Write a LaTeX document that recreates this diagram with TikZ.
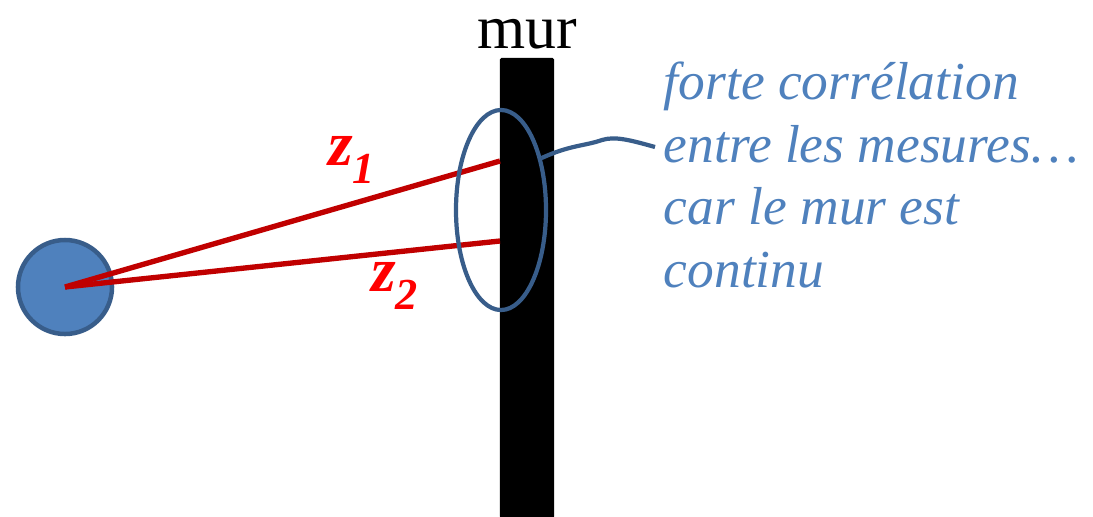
\documentclass[tikz,border=0pt]{standalone}
\usepackage{fontspec}
\setmainfont{Liberation Serif}
\usetikzlibrary{shapes.geometric, calc}
\definecolor{cfill}{HTML}{4F81BD}
\definecolor{cedge}{HTML}{385D8A}
\definecolor{cray}{HTML}{C00000}
\definecolor{clab}{HTML}{FF0000}
\tikzset{
  every picture/.style={line width=2.8pt},
  wall/.style={fill=black, draw=none, rounded corners=1pt, minimum width=1.35cm, minimum height=11.5cm, inner sep=0pt},
  source/.style={circle, fill=cfill, draw=cedge, line width=3.2pt, minimum size=2.35cm, inner sep=0pt},
  ray/.style={draw=cray, line width=3.8pt},
  zone/.style={ellipse, draw=cedge, line width=3pt, minimum width=2.25cm, minimum height=5cm, inner sep=0pt},
  raylabel/.style={text=clab, font=\fontsize{45}{47}\selectfont\bfseries\itshape},
  note/.style={text=cfill, font=\fontsize{38}{44.5}\selectfont\itshape, align=left, inner sep=0pt},
}
\begin{document}
\begin{tikzpicture}[x=0.025cm, y=-0.025cm]
  \useasboundingbox (0,0) rectangle (1093,516);
  \node[wall] (mur) at (527,288) {};
  \node[font=\fontsize{44}{46}\selectfont, anchor=base, inner sep=0pt] (murlab) at (527,48) {mur};
  \node[source] (src) at (65,287) {};
  \coordinate (p1) at (500,161);
  \coordinate (p2) at (500,241);
  \draw[ray] (src.center) -- (p1);
  \draw[ray] (src.center) -- (p2);
  \node[raylabel] (z1) at (352,160) {z\textsubscript{1}};
  \node[raylabel] (z2) at (395,286) {z\textsubscript{2}};
  \node[zone] (ell) at (501,210) {};
  \node[note, anchor=north west] (txt) at (662,60) {forte corrélation\\entre les mesures…\\car le mur est\\continu};
  \coordinate (tip) at (655,147);
  \draw[draw=cedge, line width=3pt] (ell.52) .. controls (570,145) and (585,146) .. (602,140)
    .. controls (615,136) and (630,140) .. (tip);
\end{tikzpicture}
\end{document}
